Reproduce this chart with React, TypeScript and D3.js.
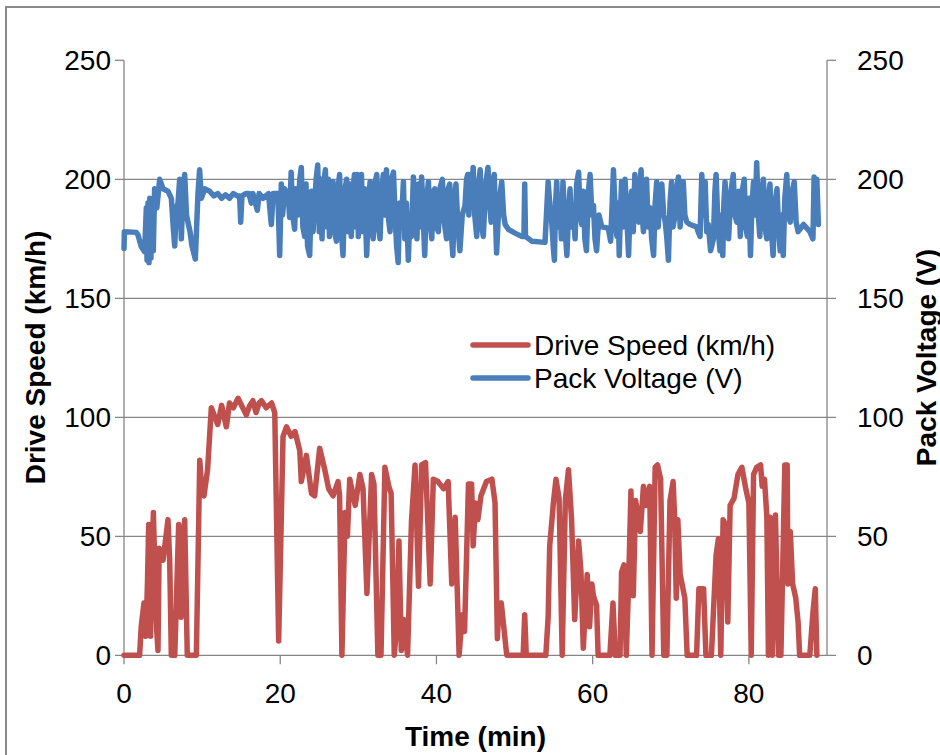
import React from "react";
import * as d3 from "d3";

const speedTime = [0,2.0,2.2,2.56,2.8,3.0,3.16,3.4,3.6,3.76,4.0,4.2,4.35,4.5,5.0,5.3,5.63,5.85,6.06,6.5,7.0,7.15,7.3,7.5,7.77,8.1,9.26,9.7,9.95,10.24,10.7,11.18,12.0,12.5,13.1,13.5,14.0,14.6,15.2,15.66,16.1,16.5,16.9,17.3,17.6,18.2,18.9,19.3,19.8,20.36,20.8,21.4,21.9,22.5,22.7,23.35,24.0,24.4,25.05,25.7,26.2,26.76,27.4,27.6,27.9,28.3,28.6,28.9,29.6,30.2,30.6,31.1,31.7,32.0,32.5,32.9,33.4,33.9,34.2,34.6,34.9,35.2,35.5,35.8,36.3,36.8,37.26,37.7,38.1,38.6,39.2,39.6,40.2,40.9,41.5,41.96,42.4,42.9,43.3,43.6,44.1,44.5,44.7,45.0,45.3,45.7,46.4,47.1,47.5,47.8,48.0,48.3,49.0,51.1,51.3,51.5,54.0,54.3,54.5,55.0,55.3,55.7,56.1,56.5,56.9,57.3,57.7,58.2,58.5,58.8,59.3,59.6,59.9,60.1,60.5,60.7,62.2,62.6,62.9,63.5,63.7,64.0,64.3,64.6,64.9,65.2,65.5,66.1,66.5,66.8,67.3,67.6,68.0,68.3,68.7,69.1,69.5,69.9,70.3,70.5,70.7,70.9,71.2,71.8,72.1,73.3,73.6,74.2,74.5,75.2,75.8,76.1,76.4,76.7,77.0,77.3,77.6,78.1,78.6,79.1,79.6,80.0,80.3,80.6,81.0,81.5,81.7,82.0,82.3,82.5,82.7,83.0,83.4,83.8,84.1,84.6,84.9,85.0,85.3,85.6,86.0,86.3,86.5,87.8,88.2,88.5,88.7];
const speedValue = [0,0,12,22,8,30,55,8,40,60,30,10,2,45,40,48,57,40,0,0,55,30,16,45,57,0,0,82,70,67,78,104,97,105,96,106,104,108,104,101,105,107,102,106,107,104,106,102,6,92,96,92,94,86,73,84,68,67,87,78,70,67,73,67,0,60,50,74,63,76,70,26,76,72,0,0,79,71,68,0,12,48,2,15,0,56,80,29,80,81,30,74,73,70,73,30,58,0,17,10,72,72,46,64,57,67,73,74,64,7,20,22,0,0,17,0,0,16,46,65,74,66,0,65,78,57,15,48,35,3,34,12,30,25,21,0,0,22,0,0,35,38,0,30,69,25,65,52,71,63,71,0,79,80,74,0,0,65,73,57,24,57,34,24,0,0,28,28,0,0,42,49,0,57,55,14,63,66,76,79,70,64,0,76,79,80,71,74,58,0,58,0,59,0,0,80,80,30,52,30,24,14,0,0,18,28,0];

const voltTime = [0,0.05,1.58,1.79,2.22,2.64,2.86,2.95,3.07,3.2,3.3,3.45,3.6,3.75,3.92,4.2,4.57,5.0,5.63,6.06,6.3,6.49,6.7,6.91,7.13,7.34,7.55,7.77,8.0,8.19,8.45,8.7,9.13,9.47,9.68,9.9,10.33,10.97,11.5,12,12.5,13,13.5,14,14.5,14.8,14.94,15.1,15.6,16.0,16.3,16.5,17.07,17.3,17.8,18.5,18.86,19.1,19.7,19.93,20.14,20.3,20.57,20.8,21.0,21.2,21.4,21.6,21.85,22.0,22.28,22.5,22.7,22.9,23.13,23.3,23.5,23.77,24.0,24.2,24.4,24.6,24.8,25.0,25.2,25.35,25.55,25.78,26.0,26.15,26.3,26.5,26.76,26.95,27.2,27.4,27.6,27.8,28.04,28.25,28.5,28.7,28.9,29.1,29.3,29.5,29.7,29.85,30.0,30.2,30.4,30.6,30.8,31.07,31.3,31.5,31.7,31.9,32.1,32.36,32.55,32.78,33.0,33.2,33.4,33.6,33.8,34.06,34.25,34.5,34.7,34.9,35.1,35.3,35.5,35.77,35.95,36.15,36.4,36.6,36.8,37.05,37.25,37.5,37.7,37.9,38.1,38.3,38.5,38.7,38.97,39.2,39.4,39.6,39.8,40.0,40.25,40.5,40.76,41.0,41.3,41.5,41.7,41.9,42.1,42.3,42.5,42.75,43.0,43.3,43.66,43.85,44.0,44.15,44.3,44.5,44.7,44.9,45.16,45.4,45.6,45.8,46.0,46.3,46.6,46.8,47.0,47.2,47.4,47.55,47.7,48.0,48.36,48.6,48.8,49.2,50.0,50.9,51.2,51.3,51.4,52.2,53.9,54.3,54.5,54.76,54.95,55.1,55.25,55.4,55.6,55.8,56.0,56.2,56.45,56.7,56.9,57.1,57.3,57.5,57.75,57.95,58.2,58.4,58.6,58.8,59.0,59.2,59.45,59.67,59.9,60.1,60.3,60.5,60.8,61.16,62.0,62.3,62.5,62.66,62.9,63.1,63.25,63.4,63.55,63.7,63.9,64.15,64.35,64.6,64.8,65.0,65.2,65.4,65.65,65.9,66.05,66.2,66.35,66.5,66.7,66.9,67.1,67.35,67.55,67.8,68.0,68.2,68.4,68.6,68.85,69.1,69.3,69.5,69.7,69.9,70.1,70.3,70.55,70.75,70.98,71.2,71.4,71.6,71.8,72.05,72.47,73.3,73.5,73.75,73.97,74.2,74.4,74.6,74.8,75.1,75.46,75.65,75.8,76.05,76.3,76.5,76.66,76.8,76.95,77.2,77.4,77.7,78.0,78.2,78.45,78.7,78.9,79.15,79.4,79.6,79.8,80.0,80.2,80.4,80.6,80.8,81.0,81.2,81.4,81.6,81.86,82.05,82.3,82.5,82.7,82.9,83.1,83.35,83.6,83.8,84.0,84.2,84.4,84.6,84.85,85.05,85.3,85.55,85.8,86.05,86.3,87.0,87.8,88.2,88.35,88.55,88.7,88.9];
const voltValue = [171,178,177.7,176.6,171.7,169.6,188,166,190,165,192,167,190,170,196,188,200,196,195,192,180,172,188,190,200,175,195,202,185,182,178,172,166.5,194,204,192,196,195,193,194,192,193.5,192,194,193,193,182,193,194,194,190,194,187,194,192,194,181,194,194,168,198,185,196,190,195,184,203,185,179,196,185,200,205,180,176,198,172,168,195,178,190,200,206,178,200,175,198,204,180,200,176,196,199,178,174,196,202,180,168,195,200,178,198,176,195,202,180,202,176,198,202,178,196,168,190,199,180,175,198,202,180,175,196,202,185,204,185,178,200,203,185,172,165,190,180,199,175,190,166,185,176,201,185,175,198,180,201,185,168,190,199,182,175,195,196,180,178,197,200,182,175,196,198,178,168,192,198,180,170,185,189,200,202,185,202,190,205,185,176,198,204,180,176,198,205,190,182,198,202,185,169,190,199,185,181,179,177.5,176,176,198,176,174,173.5,199,190,182,172,166,190,199,180,189,175,199,180,168,185,196,180,188,175,198,203,185,181,195,175,170,195,202,185,189,175,170,185,180,179.5,174,190,204,185,176,190,168,185,199,180,200,185,168,190,195,178,202,185,182,198,204,185,178,196,200,180,188,175,168,190,199,180,196,198,185,182,175,166,190,199,180,185,196,201,180,195,199,185,182,181,180,178,176,202,185,199,178,181,170,175,195,202,180,170,185,168,190,199,180,175,195,202,185,182,195,176,195,200,180,176,192,168,190,199,185,207,185,176,195,200,180,175,192,198,178,168,190,196,180,170,185,168,192,202,185,182,195,199,182,178,181,178,175,201,190,200,181];

const xTicks = [0, 20, 40, 60, 80];
const yTicks = [0, 50, 100, 150, 200, 250];
const seriesNames = ["Drive Speed (km/h)", "Pack Voltage (V)"];
const xTitle = "Time (min)";
const yLeftTitle = "Drive Speed (km/h)";
const yRightTitle = "Pack Voltage (V)";

const RED = "#C0504D";
const BLUE = "#4A7EBB";
const GRID = "#868686";
const FONT = "'Liberation Sans', Arial, sans-serif";

export default function App() {
  const x = d3.scaleLinear().domain([0, 90]).range([124, 827]);
  const yL = d3.scaleLinear().domain([0, 250]).range([655.3, 60.3]);
  const yR = d3.scaleLinear().domain([0, 250]).range([655.3, 60.3]);

  const speedData = speedTime.map((t, i) => [t, speedValue[i]] as [number, number]);
  const voltData = voltTime.map((t, i) => [t, voltValue[i]] as [number, number]);

  const speedLine = d3.line<[number, number]>().x(d => x(d[0])).y(d => yL(d[1]));
  const voltLine = d3.line<[number, number]>().x(d => x(d[0])).y(d => yR(d[1]));

  const [x0, x1] = x.range();
  const yBottom = yL(0);
  const yTop = yL(250);

  return (
    <svg width={940} height={755} style={{ position: "absolute", left: 0, top: 0, background: "#fff" }}
      fontFamily={FONT}>
      <rect x={0} y={0} width={940} height={755} fill="#fff" />
      <rect x={6} y={7} width={1000} height={1000} fill="none" stroke="#8a8a8a" strokeWidth={2} />

      {yTicks.filter(v => v > 0 && v < 250).map(v => (
        <line key={"g" + v} x1={x0 - 9} x2={x1 + 9} y1={yL(v)} y2={yL(v)} stroke={GRID} strokeWidth={1.3} />
      ))}
      <line x1={x0} x2={x0} y1={yTop} y2={yBottom} stroke={GRID} strokeWidth={1.3} />
      <line x1={x1} x2={x1} y1={yTop} y2={yBottom} stroke={GRID} strokeWidth={1.3} />
      <line x1={x0 - 9} x2={x1 + 9} y1={yBottom} y2={yBottom} stroke={GRID} strokeWidth={1.3} />
      <line x1={x0 - 9} x2={x0} y1={yTop} y2={yTop} stroke={GRID} strokeWidth={1.3} />
      <line x1={x1} x2={x1 + 9} y1={yTop} y2={yTop} stroke={GRID} strokeWidth={1.3} />
      {xTicks.map(t => (
        <line key={"xt" + t} x1={x(t)} x2={x(t)} y1={yBottom} y2={yBottom + 9} stroke={GRID} strokeWidth={1.3} />
      ))}

      {yTicks.map(v => (
        <text key={"yl" + v} x={111} y={yL(v) + 10} textAnchor="end" fontSize={28} fill="#000">{v}</text>
      ))}
      {yTicks.map(v => (
        <text key={"yr" + v} x={857} y={yR(v) + 10} textAnchor="start" fontSize={28} fill="#000">{v}</text>
      ))}
      {xTicks.map(t => (
        <text key={"xl" + t} x={x(t)} y={703} textAnchor="middle" fontSize={28} fill="#000">{t}</text>
      ))}

      <path d={voltLine(voltData) || ""} fill="none" stroke={BLUE} strokeWidth={5.5} strokeLinejoin="round" strokeLinecap="round" />
      <path d={speedLine(speedData) || ""} fill="none" stroke={RED} strokeWidth={5.5} strokeLinejoin="round" strokeLinecap="round" />

      <line x1={473} x2={528} y1={345} y2={345} stroke={RED} strokeWidth={5.5} strokeLinecap="round" />
      <text x={534} y={355} fontSize={28} fill="#000">{seriesNames[0]}</text>
      <line x1={473} x2={528} y1={378} y2={378} stroke={BLUE} strokeWidth={5.5} strokeLinecap="round" />
      <text x={534} y={388} fontSize={28} fill="#000">{seriesNames[1]}</text>

      <text x={475.5} y={746} textAnchor="middle" fontSize={28} fontWeight="bold" fill="#000">{xTitle}</text>
      <text transform={`translate(45,357.5) rotate(-90)`} textAnchor="middle" fontSize={28} fontWeight="bold" fill="#000">{yLeftTitle}</text>
      <text transform={`translate(936,357.5) rotate(-90)`} textAnchor="middle" fontSize={28} fontWeight="bold" fill="#000">{yRightTitle}</text>
    </svg>
  );
}
